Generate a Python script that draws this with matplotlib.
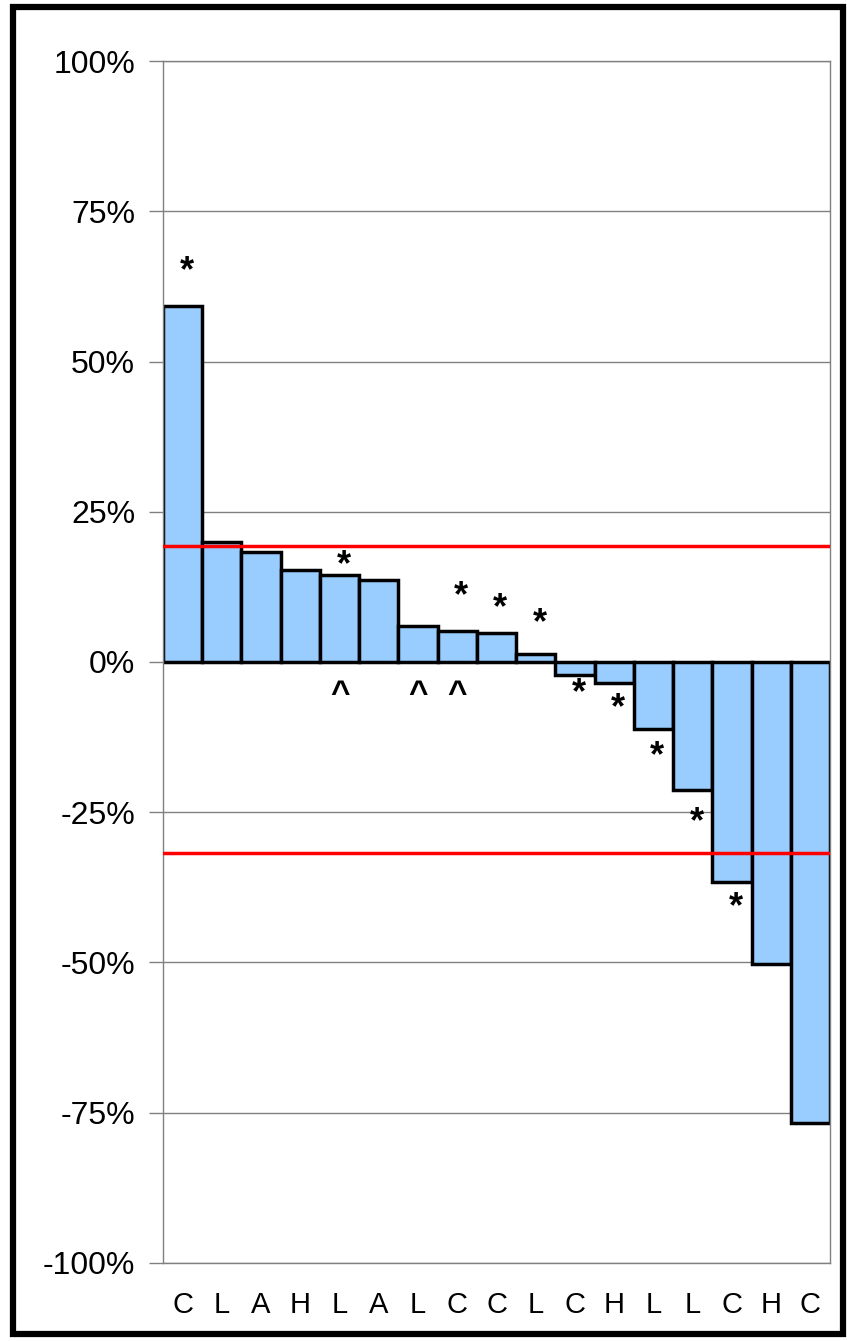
import matplotlib.pyplot as plt
from matplotlib.patches import Rectangle

plt.rcParams['font.family'] = ['Liberation Sans', 'DejaVu Sans']

# bar categories and values (percent)
labels = ["C", "L", "A", "H", "L", "A", "L", "C", "C", "L", "C", "H", "L", "L", "C", "H", "C"]
values = [59.2, 20.0, 18.3, 15.3, 14.5, 13.6, 6.0, 5.2, 4.8, 1.3, -2.2, -3.5, -11.1, -21.3, -36.6, -50.2, -76.7]

# reference lines (percent)
upper_line = 19.3
lower_line = -31.8

# annotation marks: bar index and y position (percent)
star_idx = [0, 4, 7, 8, 9, 10, 11, 12, 13, 14]
star_y = [64.9, 16.1, 10.8, 8.8, 6.3, -5.2, -7.8, -15.8, -26.8, -40.9]
caret_idx = [4, 6, 7]
caret_y = [-5.4, -5.4, -5.4]

fig = plt.figure(figsize=(8.47, 13.41), dpi=100)
ax = fig.add_axes([0.1924, 0.0582, 0.7876, 0.8963])

x = range(len(values))
ax.bar(x, values, width=1.0, color="#99CCFF", edgecolor="black", linewidth=2.5, zorder=2)
ax.axhline(upper_line, color="#ff0000", linewidth=2.5, zorder=3)
ax.axhline(lower_line, color="#ff0000", linewidth=2.5, zorder=3)

for i, yv in zip(star_idx, star_y):
    ax.text(i + 0.1, yv, "*", ha="center", va="center", fontsize=26, fontweight="bold", zorder=4)
for i, yv in zip(caret_idx, caret_y):
    ax.text(i, yv, "^", ha="center", va="center", fontsize=24, fontweight="bold", zorder=4)

ax.set_xlim(-0.5, len(values) - 0.5)
ax.set_ylim(-100, 100)
ax.set_yticks([-100, -75, -50, -25, 0, 25, 50, 75, 100])
ax.set_yticklabels(["-100%", "-75%", "-50%", "-25%", "0%", "25%", "50%", "75%", "100%"], fontsize=23)
ax.set_xticks(list(x))
ax.set_xticklabels(labels, fontsize=21)
ax.tick_params(axis="x", length=0, pad=20)
ax.tick_params(axis="y", length=10, width=1, color="#808080", pad=10)
ax.grid(axis="y", color="#808080", linewidth=1, zorder=0)
ax.set_axisbelow(True)
for s in ax.spines.values():
    s.set_color("#808080")
    s.set_linewidth(1)

fig.patches.append(Rectangle((13 / 847, 7 / 1341), 830 / 847, 1327 / 1341, transform=fig.transFigure,
                             fill=False, edgecolor="black", linewidth=4.5))

fig.savefig("out.png", dpi=100)
